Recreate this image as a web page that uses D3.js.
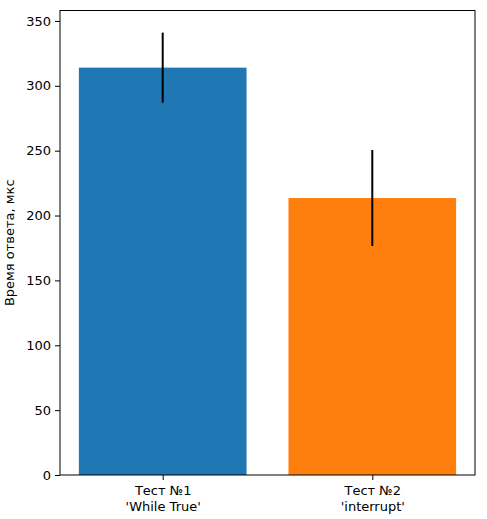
<!DOCTYPE html>
<html>
<head>
<meta charset="utf-8">
<script src="https://cdn.jsdelivr.net/npm/d3@7"></script>
<style>
  body { margin: 0; background: #fff; }
  svg text { font-family: "DejaVu Sans", sans-serif; font-size: 13px; fill: #000; }
</style>
</head>
<body>
<svg width="487" height="519"></svg>
<script>
// chart data
const tests = ["Тест №1\n'While True'", "Тест №2\n'interrupt'"];
const means = [314, 213.5];
const errs = [27, 37];
const colors = ['#1f77b4', '#ff7f0e'];
const yTicks = [0, 50, 100, 150, 200, 250, 300, 350];

const svg = d3.select('svg');
const margin = {left: 60, right: 12, top: 10.5, bottom: 44};
const W = 487, H = 519;

const x = d3.scaleLinear()
    .domain([-0.49, 1.49])
    .range([margin.left, W - margin.right]);
const yMax = d3.max(means.map((m, i) => m + errs[i])) * 1.05;
const y = d3.scaleLinear()
    .domain([0, yMax])
    .range([H - margin.bottom, margin.top]);

// bars
svg.selectAll('rect.bar')
    .data(means)
    .enter()
    .append('rect')
        .attr('class', 'bar')
        .attr('x', (d, i) => x(i - 0.4))
        .attr('width', (d, i) => x(i + 0.4) - x(i - 0.4))
        .attr('y', d => y(d))
        .attr('height', d => y(0) - y(d))
        .style('fill', (d, i) => colors[i]);

// error bars
svg.selectAll('line.err')
    .data(means)
    .enter()
    .append('line')
        .attr('class', 'err')
        .attr('x1', (d, i) => x(i))
        .attr('x2', (d, i) => x(i))
        .attr('y1', (d, i) => y(d + errs[i]))
        .attr('y2', (d, i) => y(d - errs[i]))
        .attr('stroke', '#000')
        .attr('stroke-width', 2);

// frame
svg.append('rect')
    .attr('x', margin.left)
    .attr('y', margin.top)
    .attr('width', W - margin.right - margin.left)
    .attr('height', H - margin.bottom - margin.top)
    .attr('fill', 'none')
    .attr('stroke', '#000')
    .attr('stroke-width', 1);

// y axis
const yAxis = svg.append('g')
    .attr('transform', `translate(${margin.left},0)`)
    .call(d3.axisLeft(y).tickValues(yTicks).tickSize(5).tickPadding(4));
yAxis.select('.domain').remove();

// x axis
const xAxis = svg.append('g')
    .attr('transform', `translate(0,${H - margin.bottom})`)
    .call(d3.axisBottom(x).tickValues([0, 1]).tickSize(5).tickFormat(''));
xAxis.select('.domain').remove();
xAxis.selectAll('.tick').each(function (d) {
    const lines = tests[d].split('\n');
    const t = d3.select(this).append('text')
        .attr('text-anchor', 'middle');
    lines.forEach((l, k) => {
        t.append('tspan')
            .attr('x', 0)
            .attr('y', 20 + k * 16)
            .text(l);
    });
});

// y label
svg.append('text')
    .attr('transform', `translate(14,${(margin.top + H - margin.bottom) / 2}) rotate(-90)`)
    .attr('text-anchor', 'middle')
    .text('Время ответа, мкс');
</script>
</body>
</html>
